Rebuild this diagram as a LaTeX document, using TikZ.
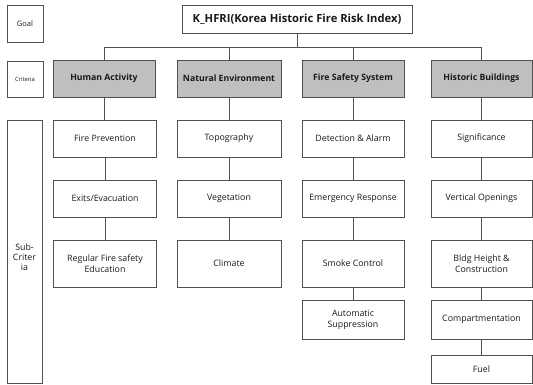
\documentclass[tikz,border=0pt]{standalone}
\usepackage{fontspec}
\setmainfont{Open Sans}
\definecolor{ln}{HTML}{505050}
\definecolor{crit}{HTML}{BFBFBF}
\tikzset{
  box/.style={draw=ln, line width=0.9pt, rectangle, inner sep=1pt, align=center, font=\fontsize{8.8}{11.2}\selectfont, text=black!90},
  critbox/.style={box, fill=crit, font=\fontsize{8.7}{11}\selectfont\bfseries},
  lvl/.style={box, font=\fontsize{7.5}{10}\selectfont},
  conn/.style={draw=ln, line width=0.9pt}
}
\begin{document}
\begin{tikzpicture}[x=1pt,y=-1pt]
\useasboundingbox (0,0) rectangle (533,384);
% level labels
\node[lvl, minimum width=36, minimum height=37] (goal) at (25,23.5) {Goal};
\node[lvl, minimum width=36, minimum height=36, font=\fontsize{5.8}{7}\selectfont] (critl) at (25,79) {Criteria};
\node[lvl, minimum width=35, minimum height=263, font=\fontsize{8.8}{11.5}\selectfont] (subl) at (24.5,251.5) {\raisebox{-9pt}[0pt][0pt]{\begin{tabular}{@{}c@{}}Sub-\\[-1.5pt]Criter\\[-1.5pt]ia\end{tabular}}};
% goal
\node[box, minimum width=230, minimum height=28, font=\fontsize{11.2}{13}\selectfont\bfseries] (title) at (297,19) {K\_HFRI(Korea Historic Fire Risk Index)};
% criteria
\node[critbox, minimum width=102, minimum height=37] (ha) at (104,78.5) {Human Activity};
\node[critbox, minimum width=104, minimum height=37] (ne) at (229,78.5) {Natural Environment};
\node[critbox, minimum width=102, minimum height=37] (fs) at (353,78.5) {Fire Safety System};
\node[critbox, minimum width=101, minimum height=37] (hb) at (481.5,78.5) {Historic Buildings};
% column A
\node[box, minimum width=103, minimum height=37] (a1) at (105,138.5) {Fire Prevention};
\node[box, minimum width=103, minimum height=37] (a2) at (105,198.5) {Exits/Evacuation};
\node[box, minimum width=103, minimum height=47] (a3) at (105,263.5) {Regular Fire safety\\Education};
% column B
\node[box, minimum width=104, minimum height=37] (b1) at (229,138.5) {Topography};
\node[box, minimum width=104, minimum height=37] (b2) at (229,198.5) {Vegetation};
\node[box, minimum width=104, minimum height=47] (b3) at (229,263.5) {Climate};
% column C
\node[box, minimum width=102, minimum height=37] (c1) at (353,138.5) {Detection \& Alarm};
\node[box, minimum width=102, minimum height=37] (c2) at (353,198.5) {Emergency Response};
\node[box, minimum width=102, minimum height=47] (c3) at (353,263.5) {Smoke Control};
\node[box, minimum width=102, minimum height=39] (c4) at (353,319.5) {Automatic\\Suppression};
% column D
\node[box, minimum width=101, minimum height=37] (d1) at (481.5,138.5) {Significance};
\node[box, minimum width=101, minimum height=37] (d2) at (481.5,198.5) {Vertical Openings};
\node[box, minimum width=101, minimum height=47] (d3) at (481.5,263.5) {Bldg Height \&\\Construction};
\node[box, minimum width=101, minimum height=39] (d4) at (481.5,319.5) {Compartmentation};
\node[box, minimum width=101, minimum height=28] (d5) at (481.5,369) {Fuel};
% connectors
\coordinate (bar) at (0,47);
\draw[conn] (title.south) -- (title.south |- bar);
\draw[conn] (ha.north) -- (ha.north |- bar) -- (hb.north |- bar) -- (hb.north);
\draw[conn] (ne.north) -- (ne.north |- bar);
\draw[conn] (fs.north) -- (fs.north |- bar);
\draw[conn] (ha.south) -- (ha.south |- a1.north);
\draw[conn] (a1) -- (a2); \draw[conn] (a2) -- (a3);
\draw[conn] (ne) -- (b1); \draw[conn] (b1) -- (b2); \draw[conn] (b2) -- (b3);
\draw[conn] (fs) -- (c1); \draw[conn] (c1) -- (c2); \draw[conn] (c2) -- (c3); \draw[conn] (c3) -- (c4);
\draw[conn] (hb) -- (d1); \draw[conn] (d1) -- (d2); \draw[conn] (d2) -- (d3); \draw[conn] (d3) -- (d4); \draw[conn] (d4) -- (d5);
\end{tikzpicture}
\end{document}
